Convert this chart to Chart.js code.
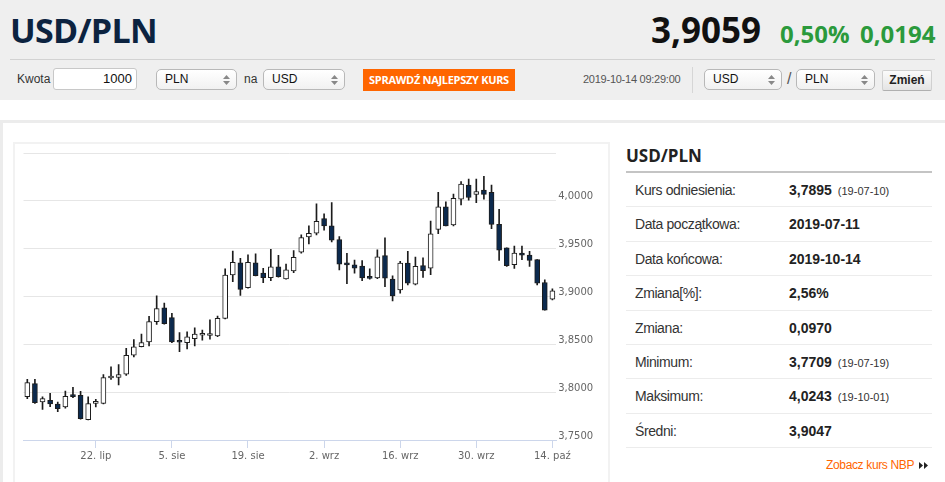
<!DOCTYPE html>
<html lang="pl">
<head>
<meta charset="utf-8">
<title>USD/PLN</title>
<script src="https://cdn.jsdelivr.net/npm/chart.js"></script>
<style>
    body { margin: 0; width: 945px; height: 482px; overflow: hidden; background: #fff; position: relative; font-family: Arial, "Liberation Sans", sans-serif; color: #333; }
    .abs { position: absolute; white-space: nowrap; }
    .hdr { left: 0; top: 0; width: 945px; height: 100px; background: #efefef; }
    .big { font: 700 35px/35px "Open Sans", sans-serif; }
    .green { font: 700 24px/24px "Open Sans", sans-serif; color: #2b9a3c; }
    .sel { box-sizing: border-box; height: 21px; border: 1px solid #b8b8b8; border-radius: 5px; background: linear-gradient(#fff, #f1f1f1); font-size: 12px; line-height: 19px; padding-left: 8px; color: #111; }
    .sel svg { position: absolute; right: 6px; top: 5px; }
    .row { left: 626px; width: 306px; height: 34.4px; box-sizing: border-box; border-bottom: 1px solid #ececec; }
    .row .lab { position: absolute; left: 9px; top: 0; line-height: 34px; font-size: 14px; letter-spacing: -0.4px; color: #333; }
    .row .val { position: absolute; left: 163px; top: 0; line-height: 34px; font-size: 14px; font-weight: 700; color: #222; }
    .row .val small { font-size: 11px; font-weight: 400; margin-left: 6px; color: #333; }
</style>
</head>
<body>
<div class="abs hdr"></div>
<div class="abs" style="left:10px; top:13px; font:700 34px/34px 'Open Sans', sans-serif; color:#0c2340; letter-spacing:-0.7px;">USD/PLN</div>
<div class="abs big" style="left:651px; top:12px; color:#111;">3,9059</div>
<div class="abs green" style="left:780px; top:22px;">0,50%</div>
<div class="abs green" style="left:860px; top:22px;">0,0194</div>
<div class="abs" style="left:10px; top:59px; width:925px; height:1px; background:#d2d2d2;"></div>

<div class="abs" style="left:17px; top:68px; line-height:22px; font-size:12px; color:#333;">Kwota</div>
<div class="abs" style="left:53px; top:68px; width:84px; height:22px; box-sizing:border-box; border:1px solid #c8c8c8; border-radius:3px; background:#fff; text-align:right; padding-right:4px; font-size:13px; line-height:20px; color:#111;">1000</div>
<div class="abs sel" style="left:156px; top:69px; width:81px;">PLN<svg width="7" height="10"><path d="M3.5 0L7 4H0z M3.5 10L7 6H0z" fill="#888"/></svg></div>
<div class="abs" style="left:244px; top:68px; line-height:22px; font-size:12px; color:#333;">na</div>
<div class="abs sel" style="left:263px; top:69px; width:82px;">USD<svg width="7" height="10"><path d="M3.5 0L7 4H0z M3.5 10L7 6H0z" fill="#888"/></svg></div>
<div class="abs" style="left:363px; top:69px; width:152px; height:22px; background:#ff6600; color:#fff; text-align:center; font:700 11px/22px 'Open Sans', sans-serif; letter-spacing:-0.3px;">SPRAWDŹ NAJLEPSZY KURS</div>

<div class="abs" style="left:583px; top:68px; line-height:22px; font-size:11px; letter-spacing:-0.25px; color:#555;">2019-10-14 09:29:00</div>
<div class="abs" style="left:692px; top:67px; width:1px; height:26px; background:#d6d6d6;"></div>
<div class="abs sel" style="left:704px; top:69px; width:78px;">USD<svg width="7" height="10"><path d="M3.5 0L7 4H0z M3.5 10L7 6H0z" fill="#888"/></svg></div>
<div class="abs" style="left:787px; top:68px; line-height:22px; font-size:16px; color:#555;">/</div>
<div class="abs sel" style="left:796px; top:69px; width:79px;">PLN<svg width="7" height="10"><path d="M3.5 0L7 4H0z M3.5 10L7 6H0z" fill="#888"/></svg></div>
<div class="abs" style="left:882px; top:70px; width:50px; height:21px; box-sizing:border-box; border:1px solid #d0d0d0; border-bottom-color:#b0b0b0; border-radius:2px; background:linear-gradient(#fbfbfb, #e4e4e4); text-align:center; font-size:12px; font-weight:700; line-height:19px; color:#222;">Zmień</div>

<!-- panel -->
<div class="abs" style="left:0; top:120px; width:945px; height:370px; box-sizing:border-box; border-top:3px solid #ececec; border-left:3px solid #ececec;"></div>
<div class="abs" style="left:13px; top:142px; width:597px; height:350px; box-sizing:border-box; border:2px solid #f2f2f2;"></div>
<div class="abs" style="left:15px; top:144px; width:593px; height:338px;">
    <canvas id="kursChart" width="593" height="338"></canvas>
</div>

<!-- summary table -->
<div class="abs" style="left:626px; top:147px; font:700 17px/17px 'Open Sans', sans-serif; color:#222;">USD/PLN</div>
<div class="abs" style="left:626px; top:171px; width:306px; height:2px; background:#c4c4c4;"></div>
<div id="summary"></div>
<div class="abs" style="left:826px; top:457px; font-size:12px; line-height:16px; letter-spacing:-0.35px; color:#ff6600;">Zobacz kurs NBP <svg width="9" height="7" style="margin-left:2px"><path d="M0 0L4 3.5L0 7z M5 0L9 3.5L5 7z" fill="#222"/></svg></div>

<script>
// trading days shown on the chart (2019)
const days = [
    '07-09', '07-10', '07-11', '07-12', '07-15', '07-16', '07-17', '07-18', '07-19',
    '07-22', '07-23', '07-24', '07-25', '07-26', '07-29', '07-30', '07-31',
    '08-01', '08-02', '08-05', '08-06', '08-07', '08-08', '08-09', '08-12', '08-13',
    '08-14', '08-15', '08-16', '08-19', '08-20', '08-21', '08-22', '08-23', '08-26',
    '08-27', '08-28', '08-29', '08-30', '09-02', '09-03', '09-04', '09-05', '09-06',
    '09-09', '09-10', '09-11', '09-12', '09-13', '09-16', '09-17', '09-18', '09-19',
    '09-20', '09-23', '09-24', '09-25', '09-26', '09-27', '09-30', '10-01', '10-02',
    '10-03', '10-04', '10-07', '10-08', '10-09', '10-10', '10-11', '10-14'
];

const openV = [
    3.7953, 3.8089, 3.7897, 3.7915, 3.7876, 3.7845, 3.7967, 3.7967, 3.7712, 3.7883,
    3.7883, 3.8148, 3.8155, 3.8187, 3.8386, 3.8476, 3.8525, 3.8738, 3.8881, 3.8780,
    3.8529, 3.8518, 3.8560, 3.8595, 3.8592, 3.8587, 3.8772, 3.9225, 3.9351, 3.9093,
    3.9351, 3.9246, 3.9197, 3.9309, 3.9183, 3.9267, 3.9463, 3.9623, 3.9661, 3.9815,
    3.9738, 3.9595, 3.9337, 3.9330, 3.9319, 3.9194, 3.9194, 3.9427, 3.9181, 3.9069,
    3.9350, 3.9129, 3.9322, 3.9297, 3.9701, 3.9937, 3.9747, 4.0018, 4.0165, 4.0067,
    4.0112, 4.0088, 3.9754, 3.9508, 3.9333, 3.9455, 3.9434, 3.9385, 3.9146, 3.8971
];
const highV = [
    3.8134, 3.8134, 3.7950, 3.7988, 3.7897, 3.8012, 3.8051, 3.8009, 3.7950, 3.7925,
    3.8183, 3.8264, 3.8288, 3.8459, 3.8550, 3.8606, 3.8794, 3.9007, 3.8930, 3.8825,
    3.8623, 3.8630, 3.8672, 3.8648, 3.8756, 3.8796, 3.9288, 3.9476, 3.9400, 3.9435,
    3.9445, 3.9295, 3.9494, 3.9431, 3.9340, 3.9480, 3.9644, 3.9738, 3.9969, 3.9864,
    3.9983, 3.9627, 3.9452, 3.9382, 3.9375, 3.9288, 3.9487, 3.9614, 3.9217, 3.9368,
    3.9473, 3.9413, 3.9403, 3.9789, 4.0088, 3.9989, 4.0070, 4.0200, 4.0228, 4.0228,
    4.0256, 4.0165, 3.9912, 3.9508, 3.9526, 3.9526, 3.9473, 3.9385, 3.9174, 3.9080
];
const lowV = [
    3.7932, 3.7883, 3.7820, 3.7848, 3.7796, 3.7834, 3.7943, 3.7719, 3.7709, 3.7845,
    3.7876, 3.8134, 3.8075, 3.8176, 3.8368, 3.8473, 3.8483, 3.8707, 3.8710, 3.8518,
    3.8424, 3.8452, 3.8483, 3.8543, 3.8553, 3.8580, 3.8765, 3.9155, 3.9012, 3.9086,
    3.9215, 3.9145, 3.9166, 3.9201, 3.9180, 3.9250, 3.9452, 3.9550, 3.9644, 3.9693,
    3.9571, 3.9278, 3.9134, 3.9243, 3.9166, 3.9180, 3.9187, 3.9104, 3.8953, 3.9034,
    3.9122, 3.9122, 3.9199, 3.9227, 3.9656, 3.9737, 3.9737, 3.9958, 4.0007, 3.9982,
    4.0018, 3.9708, 3.9378, 3.9315, 3.9294, 3.9385, 3.9315, 3.9122, 3.8858, 3.8964
];
const closeV = [
    3.8100, 3.7890, 3.7932, 3.7876, 3.7827, 3.7956, 3.7953, 3.7723, 3.7880, 3.7890,
    3.8152, 3.8159, 3.8183, 3.8386, 3.8473, 3.8518, 3.8738, 3.8874, 3.8717, 3.8525,
    3.8522, 3.8578, 3.8606, 3.8602, 3.8599, 3.8772, 3.9225, 3.9358, 3.9075, 3.9358,
    3.9218, 3.9197, 3.9309, 3.9208, 3.9278, 3.9410, 3.9616, 3.9661, 3.9787, 3.9738,
    3.9588, 3.9337, 3.9330, 3.9295, 3.9194, 3.9190, 3.9414, 3.9192, 3.9006, 3.9350,
    3.9139, 3.9315, 3.9269, 3.9656, 3.9937, 3.9737, 4.0025, 4.0176, 4.0035, 4.0098,
    4.0067, 3.9754, 3.9484, 3.9322, 3.9455, 3.9431, 3.9378, 3.9139, 3.8858, 3.9059
];

// labelled days on the x axis
const tickDays = ['07-22', '08-05', '08-19', '09-02', '09-16', '09-30', '10-14'];
const tickLabels = ['22. lip', '5. sie', '19. sie', '2. wrz', '16. wrz', '30. wrz', '14. paź'];

// y axis
const yMin = 3.75;
const yMax = 4.05;
const yStep = 0.05;

// summary table
const sumLabels = ['Kurs odniesienia:', 'Data początkowa:', 'Data końcowa:', 'Zmiana[%]:', 'Zmiana:', 'Minimum:', 'Maksimum:', 'Średni:'];
const sumValues = ['3,7895', '2019-07-11', '2019-10-14', '2,56%', '0,0970', '3,7709', '4,0243', '3,9047'];
const sumDates = ['19-07-10', '', '', '', '', '19-07-19', '19-10-01', ''];

// build the table rows
const summary = document.getElementById('summary');
sumLabels.forEach(function(label, i) {
    const row = document.createElement('div');
    row.className = 'abs row';
    row.style.top = (173 + i * 34.4) + 'px';
    row.innerHTML = '<span class="lab">' + label + '</span><span class="val">' + sumValues[i] +
        (sumDates[i] ? '<small>(' + sumDates[i] + ')</small>' : '') + '</span>';
    summary.appendChild(row);
});

const axisFont = { family: 'DejaVu Sans', size: 10 };
const isUp = i => closeV[i] >= openV[i];

new Chart(document.getElementById('kursChart'), {
    type: 'bar',
    data: {
        labels: days,
        datasets: [
            {
                // candle bodies
                data: openV.map((o, i) => [o, closeV[i]]),
                backgroundColor: ctx => isUp(ctx.dataIndex) ? '#ffffff' : '#0c2a4e',
                borderColor: '#1c1c1c',
                borderWidth: 1,
                borderSkipped: false,
                barThickness: 5,
                minBarLength: 2,
                grouped: false,
                order: 0
            },
            {
                // wicks
                data: lowV.map((l, i) => [l, highV[i]]),
                backgroundColor: '#1c1c1c',
                borderWidth: 0,
                barThickness: 1,
                grouped: false,
                order: 1
            }
        ]
    },
    options: {
        responsive: false,
        animation: false,
        layout: { padding: { left: 8.5, top: 9, right: 0, bottom: 0 } },
        plugins: { legend: { display: false }, tooltip: { enabled: false } },
        scales: {
            x: {
                type: 'category',
                offset: true,
                afterFit: s => { s.height = 42; },
                border: { color: '#ccd6eb', width: 1 },
                grid: {
                    offset: false,
                    drawOnChartArea: false,
                    drawTicks: true,
                    tickLength: 8,
                    color: ctx => tickDays.includes(days[ctx.index]) ? '#ccd6eb' : 'rgba(0,0,0,0)'
                },
                ticks: {
                    autoSkip: false,
                    maxRotation: 0,
                    padding: 2,
                    color: '#666',
                    font: axisFont,
                    callback: (v, i) => {
                        const k = tickDays.indexOf(days[i]);
                        return k >= 0 ? tickLabels[k] : '';
                    }
                }
            },
            y: {
                position: 'right',
                min: yMin,
                max: yMax,
                afterFit: s => { s.width = 51.8; },
                border: { display: false },
                grid: { color: '#e6e6e6', lineWidth: 1, drawTicks: false },
                ticks: {
                    stepSize: yStep,
                    padding: 2,
                    labelOffset: -4,
                    color: '#666',
                    font: axisFont,
                    callback: v => v > yMax - 0.01 ? '' : v.toFixed(4).replace('.', ',')
                }
            }
        }
    }
});
</script>
</body>
</html>
